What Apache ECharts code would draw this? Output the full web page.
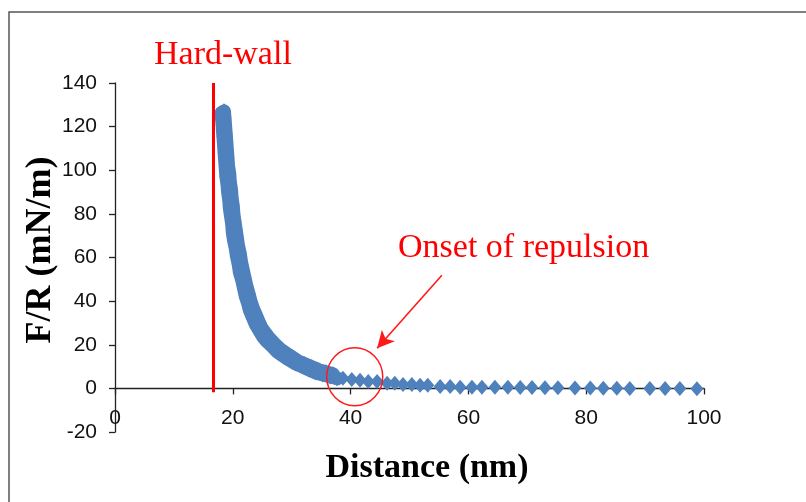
<!DOCTYPE html>
<html>
<head>
<meta charset="utf-8">
<script src="https://cdn.jsdelivr.net/npm/echarts@6/dist/echarts.min.js"></script>
<style>html,body{margin:0;padding:0;background:#fff}#chart{width:806px;height:502px}</style>
</head>
<body>
<div id="chart"></div>
<script>
// ---- data ----
const xTicks = [0, 20, 40, 60, 80, 100];
const yTicks = [-20, 0, 20, 40, 60, 80, 100, 120, 140];

// main scan: steep part (centre of the band)
const distanceA = [18.1,18.2,18.3,18.4,18.5,18.6,18.7,18.8,18.9,19.1,19.2,19.4,19.5,19.7,19.9,20.0,20.2,20.5,20.7,21.0,21.2,21.6,21.9,22.2,22.6,22.9,23.4,23.9,24.5,25.1,25.8,26.7,27.5,28.5,29.5,30.6,31.8,32.9,34.1,35.3,36.5,37.7];
const forceA    = [126.3,123.0,119.3,115.6,112.0,108.3,104.6,101.0,97.3,93.6,90.0,86.3,82.6,78.9,75.3,71.6,67.9,64.3,60.6,56.9,53.2,49.6,45.9,42.2,39.0,35.8,32.6,29.4,26.6,23.9,21.6,19.3,17.0,15.1,13.3,11.5,10.1,8.7,7.3,6.4,5.5,4.6];

// second scan (upper/right edge of the band)
const distanceB = [18.5,18.6,18.7,18.8,18.9,19.0,19.1,19.2,19.4,19.5,19.7,19.8,20.0,20.1,20.3,20.5,20.7,20.9,21.2,21.4,21.7,22.0,22.3,22.7,23.0,23.4,23.9,24.4,24.9,25.6,26.3,27.1,28.0,29.0,30.0,31.0,32.2,33.4,34.6,35.8,37.0];
const forceB    = [127.0,123.8,120.2,116.6,113.0,109.3,105.6,102.0,98.3,94.6,91.0,87.3,83.6,79.9,76.3,72.6,68.9,65.3,61.6,57.9,54.2,50.6,46.9,43.2,40.0,36.8,33.6,30.4,27.6,24.9,22.6,20.3,18.0,16.1,14.3,12.5,11.1,9.7,8.3,7.4,6.5];

// long-distance tail
const distanceTail = [38.7,40.2,41.6,43.0,44.5,46.2,47.5,48.9,50.4,51.8,53.1,55.2,56.9,58.6,60.6,62.3,64.5,66.7,68.8,70.8,73.0,75.2,78.1,80.7,82.9,85.2,87.4,90.8,93.4,95.9,98.8];
const forceTail    = [4.6,4.1,3.7,3.2,3.2,2.3,2.3,1.8,1.8,1.4,1.4,0.9,0.9,0.5,0.5,0.5,0.5,0.5,0.4,0.4,0.3,0.3,0.2,0.2,0.1,0.1,0,0,0,-0.1,-0.2];

// annotations (data coordinates)
const hardWallX = 16.6, hardWallTop = 140, hardWallBottom = -1.8;
const onsetCircle = [40.7, 5.3];
const arrowFrom = [55.5, 51.9], arrowTo = [44.5, 18.4];

const blue = '#4F81BD';
const zip = (xs, ys) => xs.map((x, i) => [x, ys[i]]);
const denseA = zip(distanceA, forceA);
const denseB = zip(distanceB, forceB);
const tail = zip(distanceTail, forceTail);

const chart = echarts.init(document.getElementById('chart'), null, {renderer: 'canvas'});
const tickFont = {fontFamily: 'Liberation Sans, Arial, sans-serif', fontSize: 21, color: '#111'};
const denseSeries = (name, data) => ({
  type: 'line', name: name, data: data, symbol: 'diamond', symbolSize: [14, 16], showSymbol: true,
  itemStyle: {color: blue, opacity: 1}, lineStyle: {color: blue, width: 14, cap: 'round', join: 'round'},
  silent: true, z: 2
});
chart.setOption({
  animation: false,
  backgroundColor: '#fff',
  grid: {left: 115, top: 83, width: 589, height: 349, containLabel: false, outerBoundsMode: 'none'},
  xAxis: {
    type: 'value', min: xTicks[0], max: xTicks[xTicks.length - 1], interval: 20,
    name: 'Distance (nm)', nameLocation: 'middle', nameGap: 19, nameMoveOverlap: false,
    nameTextStyle: {fontFamily: 'Liberation Serif, Times New Roman, serif', fontWeight: 'bold', fontSize: 34, color: '#000', padding: [0, 0, 0, 35]},
    axisLine: {onZero: true, lineStyle: {color: '#222', width: 1.3}},
    axisTick: {show: true, inside: false, length: 6, lineStyle: {color: '#222', width: 1.3}},
    axisLabel: Object.assign({margin: -24}, tickFont),
    splitLine: {show: false}
  },
  yAxis: {
    type: 'value', min: yTicks[0], max: yTicks[yTicks.length - 1], interval: 20,
    name: 'F/R (mN/m)', nameLocation: 'middle', nameGap: 56, nameRotate: 90, nameMoveOverlap: false,
    nameTextStyle: {fontFamily: 'Liberation Serif, Times New Roman, serif', fontWeight: 'bold', fontSize: 36, color: '#000', padding: [0, 0, 0, 15]},
    axisLine: {show: true, onZero: false, lineStyle: {color: '#222', width: 1.3}},
    axisTick: {show: true, inside: false, length: 6, lineStyle: {color: '#222', width: 1.3}},
    axisLabel: Object.assign({margin: 18}, tickFont),
    splitLine: {show: false}
  },
  series: [
    denseSeries('scanB', denseB),
    denseSeries('scanA', denseA),
    {
      type: 'scatter', name: 'tail', data: tail, symbol: 'diamond', symbolSize: [13, 15],
      itemStyle: {color: blue, opacity: 1}, silent: true, z: 2
    },
    {
      type: 'scatter', name: 'annot', data: [onsetCircle], symbol: 'circle', symbolSize: [56, 58],
      itemStyle: {color: 'rgba(0,0,0,0)', borderColor: '#ff1a1a', borderWidth: 1.5, opacity: 1}, silent: true, z: 5,
      markLine: {
        silent: true, animation: false, label: {show: false},
        data: [
          [{coord: [hardWallX, hardWallTop], symbol: 'none', lineStyle: {color: '#ff0000', width: 3, type: 'solid'}},
           {coord: [hardWallX, hardWallBottom], symbol: 'none'}],
          [{coord: arrowFrom, symbol: 'none', lineStyle: {color: '#ff1a1a', width: 1.6, type: 'solid'}},
           {coord: arrowTo, symbol: 'arrow', symbolSize: [13, 17]}]
        ]
      }
    }
  ],
  graphic: [
    {type: 'rect', shape: {x: 9, y: 12, width: 900, height: 600}, style: {fill: null, stroke: '#555', lineWidth: 1.5}, silent: true},
    {type: 'text', left: 154, top: 38, style: {text: 'Hard-wall', fill: '#ff0000', font: '34px "Liberation Serif", "Times New Roman", serif'}},
    {type: 'text', left: 398, top: 231, style: {text: 'Onset of repulsion', fill: '#ff0000', font: '34px "Liberation Serif", "Times New Roman", serif'}}
  ]
});
</script>
</body>
</html>
